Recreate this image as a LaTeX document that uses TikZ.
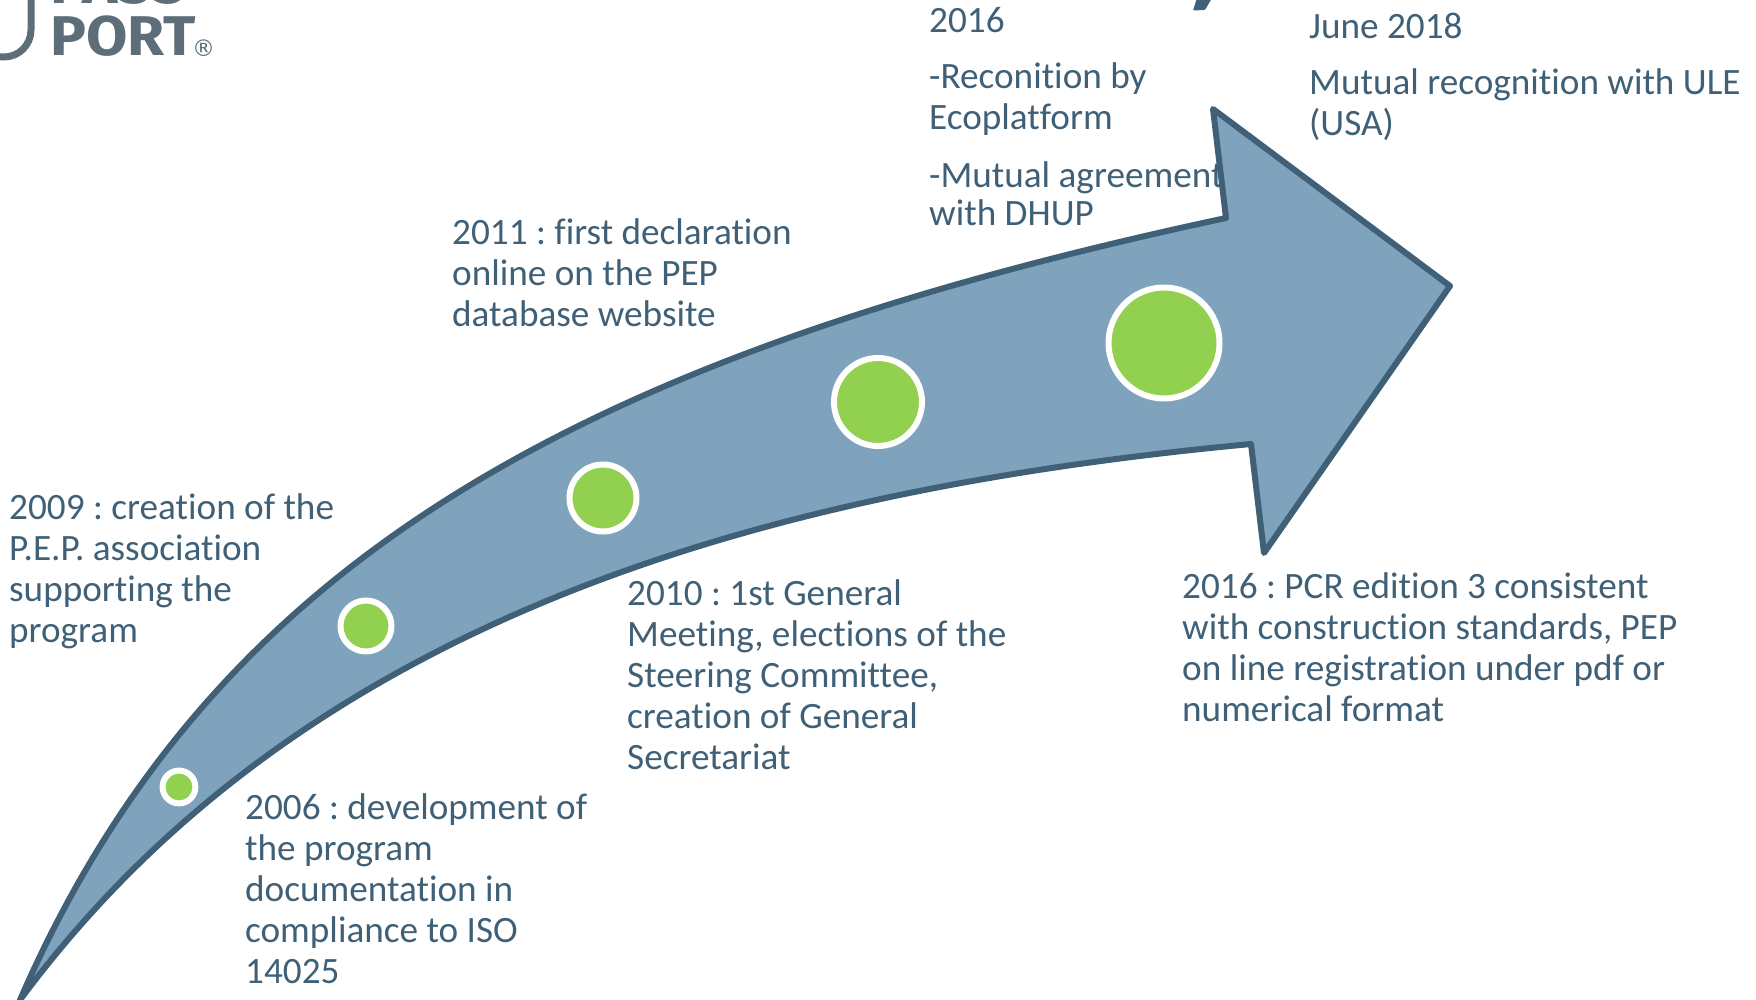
\documentclass[tikz,border=0pt]{standalone}
\usepackage{fontspec}
\setmainfont[Ligatures=NoCommon]{Carlito}
\newfontfamily\logofont{Fira Sans}
\newfontfamily\markfont{DejaVu Sans}
\definecolor{arrowfill}{HTML}{7FA3BC}
\definecolor{arrowline}{HTML}{3F6077}
\definecolor{dotgreen}{HTML}{92D050}
\definecolor{logogrey}{HTML}{5D6E78}
\tikzset{
	note/.style={anchor=north west,align=left,inner sep=0pt,text=arrowline,
		font=\fontsize{37.2}{41}\selectfont\frenchspacing},
	logotext/.style={anchor=base west,inner sep=0pt,text=logogrey,xscale=1.07,transform shape,
		font=\logofont\bfseries\fontsize{56}{56}\selectfont}
}
\begin{document}
\begin{tikzpicture}[x=1pt,y=-1pt,line join=round,line cap=round]
	\useasboundingbox (0,0) rectangle (1756,1000);
	\clip (0,0) rectangle (1756,1000);
	\path
	(20,1000) coordinate (T)
	(1226,218) coordinate (U)
	(1213,109) coordinate (V)
	(1450,286) coordinate (W)
	(1264,553) coordinate (X)
	(1251,444) coordinate (Y)
	;
	% logo
	\draw[logogrey,line width=7pt] (31,-20)--(31,30) arc (0:90:27) -- (-10,57);
	\node[logotext] (logoa) at (50,4) {PASS};
	\node[logotext] (logob) at (50,55.5) {PORT};
	\node[anchor=base west,inner sep=0pt,text=logogrey,font=\markfont\fontsize{23}{23}\selectfont] (logoc) at (192,57) {®};
	% what is left of the title
	\fill[arrowline,rounded corners=1pt] (1193,10.5)--(1205,10)--(1212,-2)--(1197,-2)--cycle;
	% texts
	\node[note] (n2009) at (9,493.5) {2009 : creation of the\\P.E.P. association\\supporting the\\program};
	\node[note] (n2006) at (245,793.5) {2006 : development of\\the program\\documentation in\\compliance to ISO\\14025};
	\node[note] (n2011) at (452,218.5) {2011 : first declaration\\online on the PEP\\database website};
	\node[note] (n2010) at (627,579.5) {2010 : 1st General\\Meeting, elections of the\\Steering Committee,\\creation of General\\Secretariat};
	\node[note] (n2016a) at (929,7.5) {2016\\[15pt]-Reconition by\\Ecoplatform\\[17pt]-Mutual agreement\\[-3pt]with DHUP};
	\node[note] (n2018) at (1309,13) {June 2018\\[15pt]Mutual recognition with ULE\\(USA)};
	\node[note] (n2016b) at (1182,572.5) {2016 : PCR edition 3 consistent\\with construction standards, PEP\\on line registration under pdf or\\numerical format};
	% arrow
	\draw[fill=arrowfill,draw=arrowline,line width=6pt]
	(T) .. controls (210,563) and (576,357) .. (U)
	--(V)--(W)--(X)--(Y)
	.. controls (771,489) and (305,615) .. (T)
	--cycle;
	% dots
	\foreach \a/\b/\r/\n in {179/787/16.4/A,366/626/25.5/B,603/498/33.5/C,878/402/44/D,1164/343/55.5/E}
	{\node[circle,minimum size=2*\r,inner sep=0pt,fill=dotgreen,draw=white,line width=6pt] (dot\n) at (\a,\b) {};}
\end{tikzpicture}
\end{document}
